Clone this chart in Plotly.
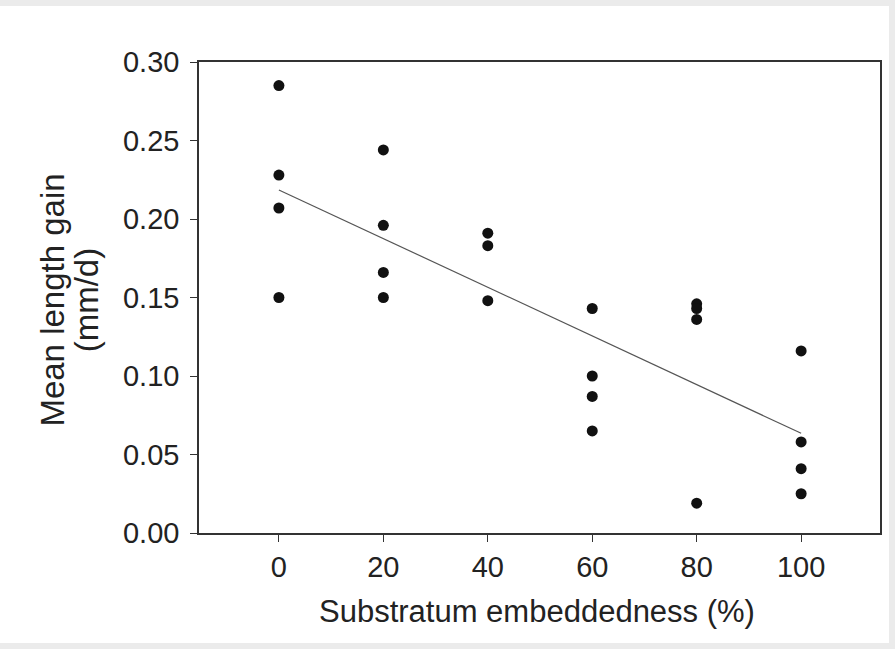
import plotly.graph_objects as go

# Data
embeddedness = [0, 0, 0, 0,
                20, 20, 20, 20,
                40, 40, 40,
                60, 60, 60, 60,
                80, 80, 80, 80,
                100, 100, 100, 100]
length_gain = [0.285, 0.228, 0.207, 0.150,
               0.244, 0.196, 0.166, 0.150,
               0.191, 0.183, 0.148,
               0.143, 0.100, 0.087, 0.065,
               0.146, 0.143, 0.136, 0.019,
               0.116, 0.058, 0.041, 0.025]
trend_x = [0, 100]
trend_y = [0.2185, 0.0635]

x_ticks = [0, 20, 40, 60, 80, 100]
y_ticks = [0.00, 0.05, 0.10, 0.15, 0.20, 0.25, 0.30]

x_title = "Substratum embeddedness (%)"
y_title_lines = ["Mean length gain", "(mm/d)"]

FONT = "Liberation Sans, Arial, sans-serif"
AX = "#333333"
TXT = "#222222"

fig = go.Figure()
fig.add_trace(go.Scatter(x=trend_x, y=trend_y, mode="lines",
                         line=dict(color="#555555", width=1.2),
                         showlegend=False, hoverinfo="skip"))
fig.add_trace(go.Scatter(x=embeddedness, y=length_gain, mode="markers",
                         marker=dict(color="#111111", size=11),
                         showlegend=False))

fig.add_shape(type="rect", xref="paper", yref="paper",
              x0=-199/681, x1=(889-199)/681, y0=-(643-533)/471, y1=(533-6)/471,
              fillcolor="white", line=dict(width=0), layer="below")

# axis titles as annotations for precise placement
fig.add_annotation(text=x_title, xref="paper", yref="paper",
                   x=0.496, y=-0.1677, xanchor="center", yanchor="middle",
                   showarrow=False, font=dict(size=31, color=TXT, family=FONT))
fig.add_annotation(text=y_title_lines[0], xref="paper", yref="paper",
                   x=-0.2150, y=0.4947, xanchor="center", yanchor="middle",
                   textangle=-90, showarrow=False,
                   font=dict(size=33, color=TXT, family=FONT))
fig.add_annotation(text=y_title_lines[1], xref="paper", yref="paper",
                   x=-0.1640, y=0.4947, xanchor="center", yanchor="middle",
                   textangle=-90, showarrow=False,
                   font=dict(size=33, color=TXT, family=FONT))

fig.update_layout(
    width=895, height=649,
    margin=dict(l=199, r=15, t=62, b=116),
    paper_bgcolor="#ebebeb",
    plot_bgcolor="white",
    font=dict(family=FONT, color=TXT, size=29),
    xaxis=dict(range=[-15.3, 115.1], tickvals=x_ticks,
               ticktext=[str(v) for v in x_ticks],
               showgrid=False, zeroline=False,
               showline=True, linecolor=AX, linewidth=1.5, mirror=True,
               ticks="outside", ticklen=7, tickcolor=AX, tickwidth=1.2,
               tickfont=dict(size=29)),
    yaxis=dict(range=[0, 0.30], tickvals=y_ticks,
               ticktext=[f"{v:.2f}" for v in y_ticks],
               showgrid=False, zeroline=False,
               showline=True, linecolor=AX, linewidth=1.5, mirror=True,
               ticks="outside", ticklen=7, tickcolor=AX, tickwidth=1.2,
               ticklabelstandoff=5,
               tickfont=dict(size=29)),
)

fig.write_html("out.html")
